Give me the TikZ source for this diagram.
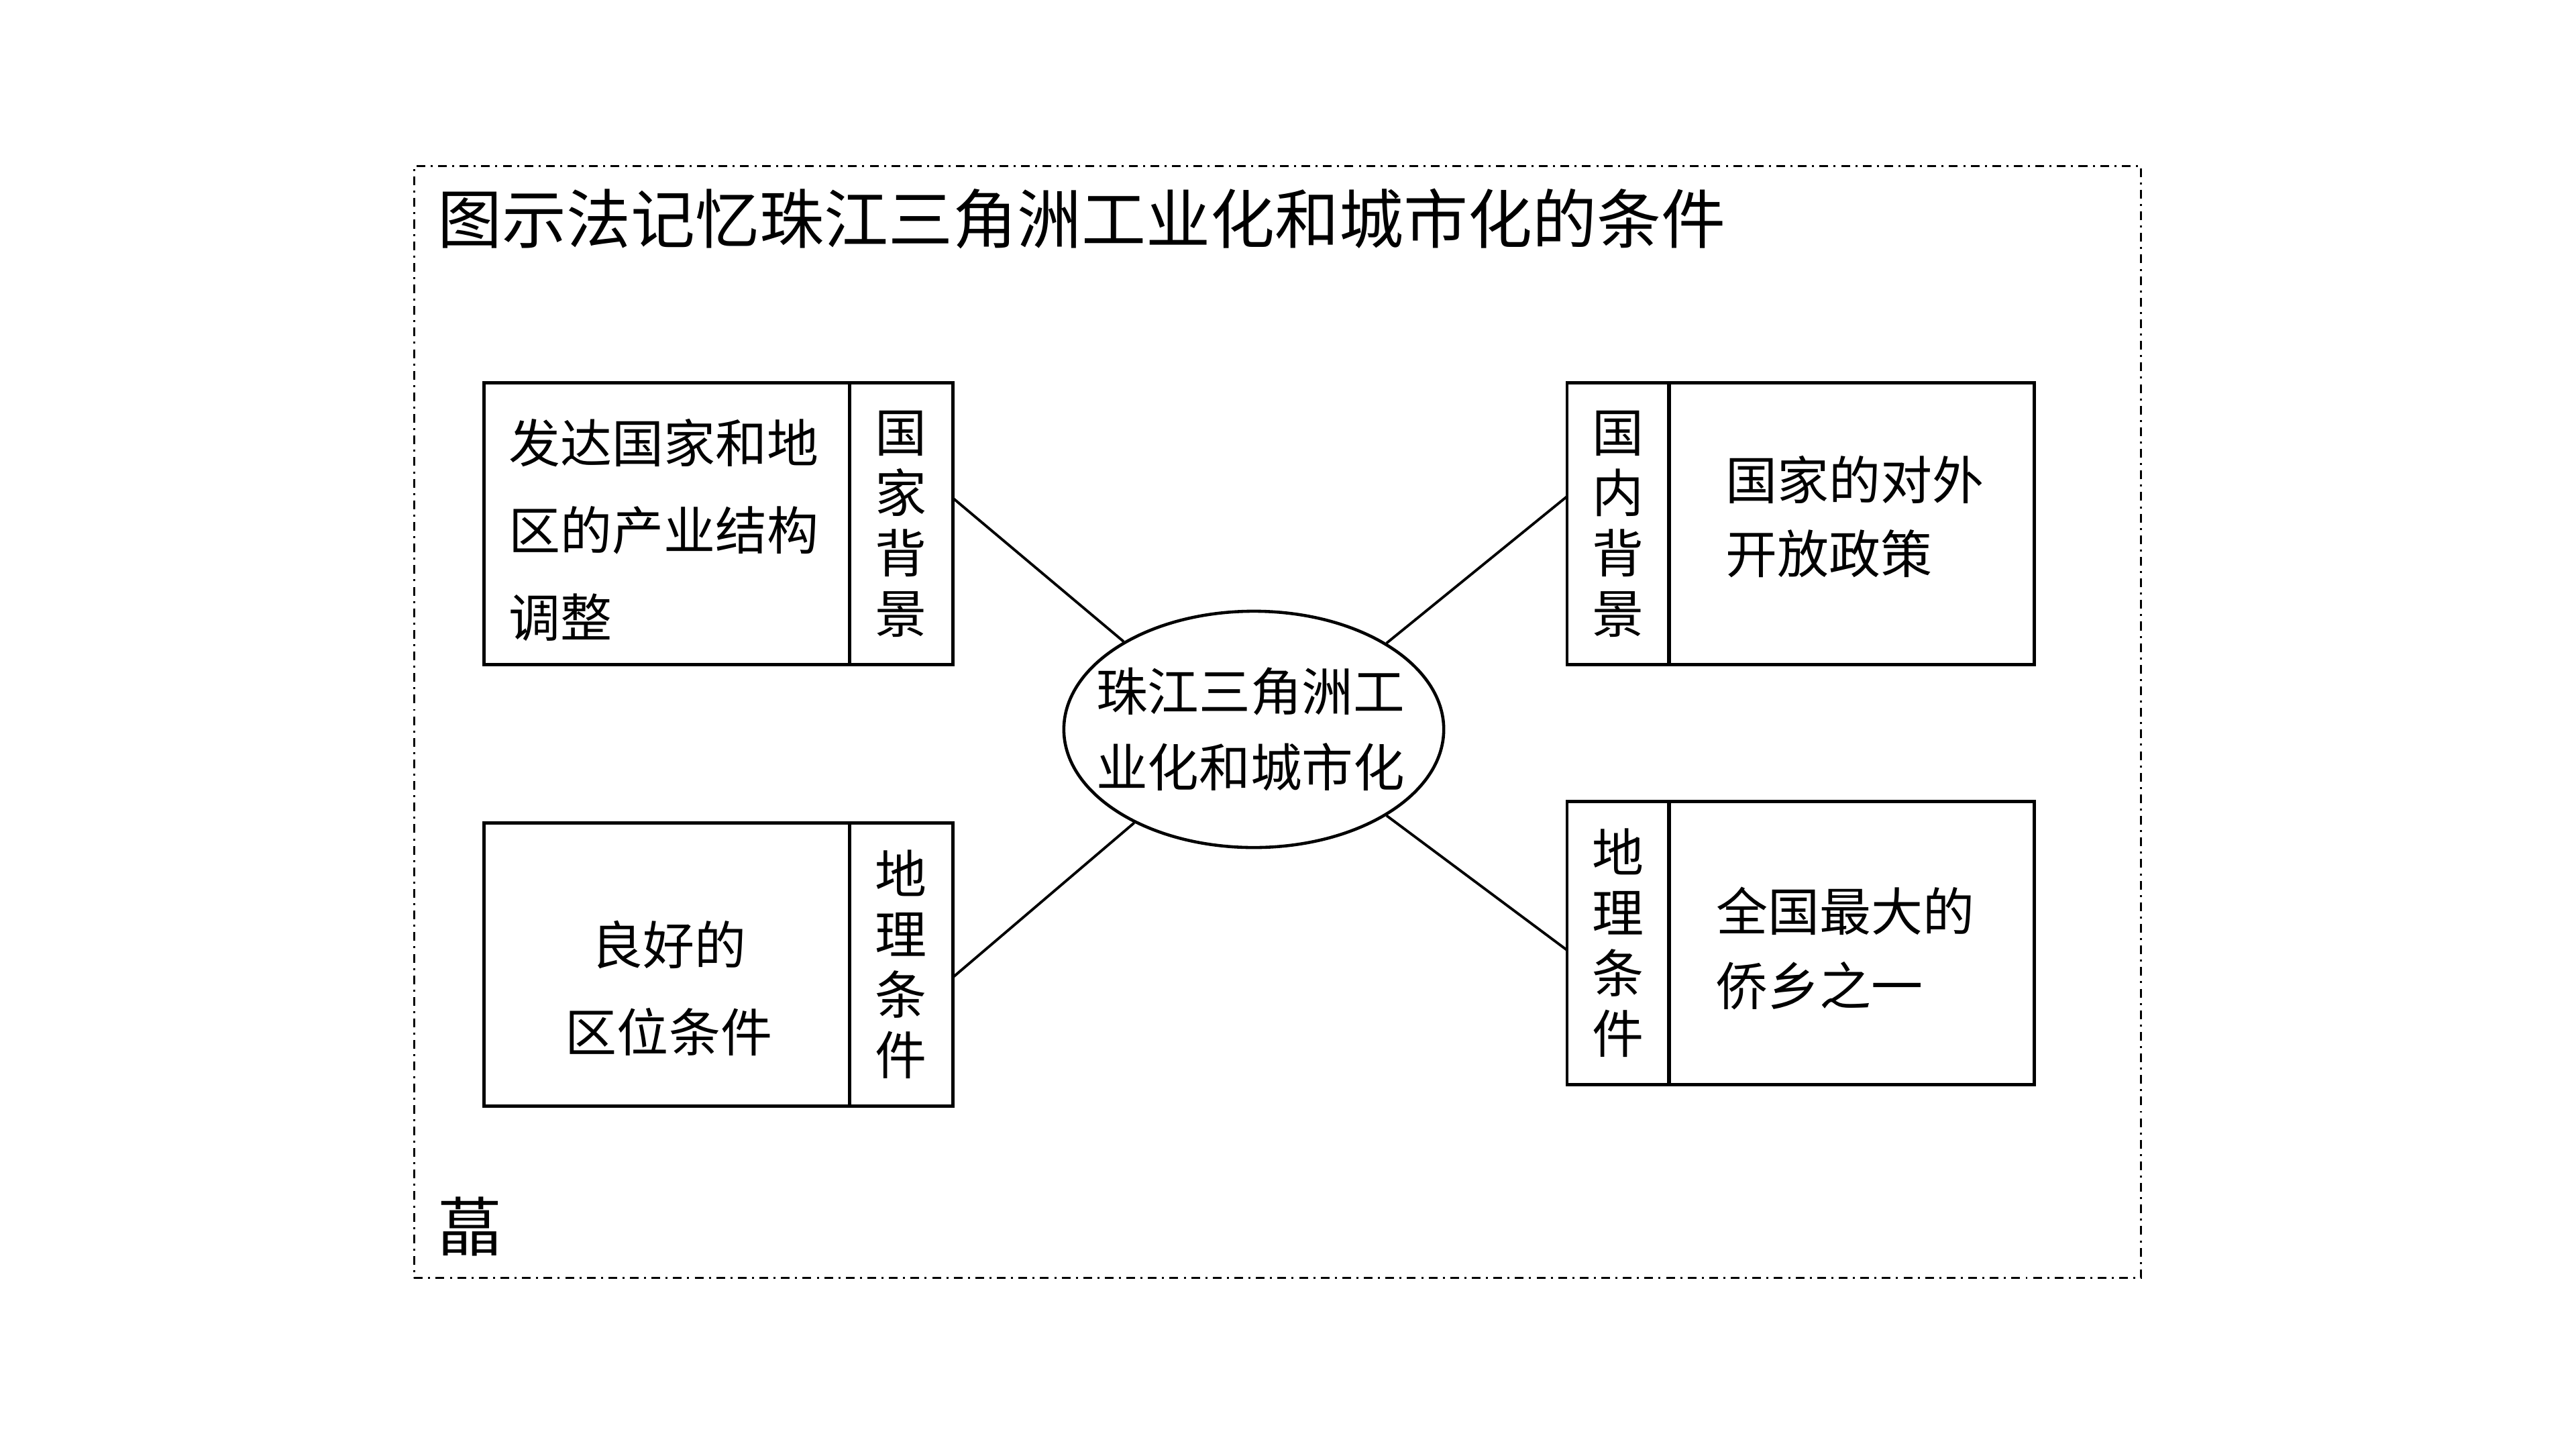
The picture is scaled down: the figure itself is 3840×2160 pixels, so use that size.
\documentclass[tikz,border=0pt]{standalone}
\usepackage{fontspec}
\newfontfamily\cjk{Noto Sans CJK SC}
\usetikzlibrary{shapes.geometric,calc}
\begin{document}
\begin{tikzpicture}[x=0.01cm,y=-0.01cm,
  frame/.style={draw, line width=0.85pt, dash pattern=on 3.7pt off 2.3pt on 0.85pt off 2.3pt},
  cell/.style={draw, rectangle, line width=1.4pt, inner sep=0pt, outer sep=0pt, minimum height=4.19cm},
  maincell/.style={cell, minimum width=5.44cm},
  labelcell/.style={cell, minimum width=1.54cm, align=center, font=\cjk\fontsize{21.9pt}{25.6pt}\selectfont},
  bigtxt/.style={font=\cjk\fontsize{27.3pt}{30pt}\selectfont, inner sep=0pt},
  bodytxt/.style={font=\cjk\fontsize{21.9pt}{37pt}\selectfont, inner sep=0pt},
  conn/.style={draw, line width=1.1pt},
  hubshape/.style={draw, ellipse, line width=1.3pt, minimum width=5.66cm, minimum height=3.52cm, inner sep=0pt}
]
\path[use as bounding box, fill=white] (0,0) rectangle (3840,2160);

% outer dash-dot frame
\node[frame, rectangle, inner sep=0pt, minimum width=25.73cm, minimum height=16.56cm] (frame) at (1904.5,1076) {};

% title and corner character
\node[bigtxt, anchor=west] (title) at (652,326) {图示法记忆珠江三角洲工业化和城市化的条件};
\node[bigtxt] (corner) at (700,1828) {蕌};

% central ellipse
\node[hubshape] (hub) at (1869,1087) {};
\node[font=\cjk\fontsize{21.8pt}{32.1pt}\selectfont, inner sep=0pt, align=center] (hubtext) at (1864,1086.5) {珠江三角洲工\\业化和城市化};

% top-left box
\node[maincell] (tlmain) at (994,780.5) {};
\node[labelcell] (tllabel) at (1343,780.5) {国\\家\\背\\景};
\node[bodytxt, anchor=west, align=left] (tltext) at (758,790) {发达国家和地\\区的产业结构\\调整};

% bottom-left box
\node[maincell, minimum height=4.21cm] (blmain) at (994,1437.5) {};
\node[labelcell, minimum height=4.21cm] (bllabel) at (1343,1437.5) {地\\理\\条\\件};
\node[bodytxt, align=center] (bltext) at (997,1473) {良好的\\区位条件};

% top-right box
\node[labelcell, minimum width=1.52cm] (trlabel) at (2412,780.5) {国\\内\\背\\景};
\node[maincell] (trmain) at (2760,780.5) {};
\node[font=\cjk\fontsize{21.9pt}{31.3pt}\selectfont, inner sep=0pt, anchor=west, align=left] (trtext) at (2572,770) {国家的对外\\开放政策};

% bottom-right box
\node[labelcell, minimum width=1.52cm, minimum height=4.21cm] (brlabel) at (2412,1405.5) {地\\理\\条\\件};
\node[maincell, minimum height=4.21cm] (brmain) at (2760,1405.5) {};
\node[font=\cjk\fontsize{21.9pt}{31.6pt}\selectfont, inner sep=0pt, anchor=west, align=left] (brtext) at (2558,1413.5) {全国最大的\\侨乡之一};

% connectors
\draw[conn] ($(tllabel.north east)!0.408!(tllabel.south east)$) -- (hub.146.6);
\draw[conn] ($(bllabel.north east)!0.546!(bllabel.south east)$) -- (hub.218);
\draw[conn] ($(trlabel.north west)!0.403!(trlabel.south west)$) -- (hub.33.6);
\draw[conn] ($(brlabel.north west)!0.525!(brlabel.south west)$) -- (hub.-33.3);
\end{tikzpicture}
\end{document}
